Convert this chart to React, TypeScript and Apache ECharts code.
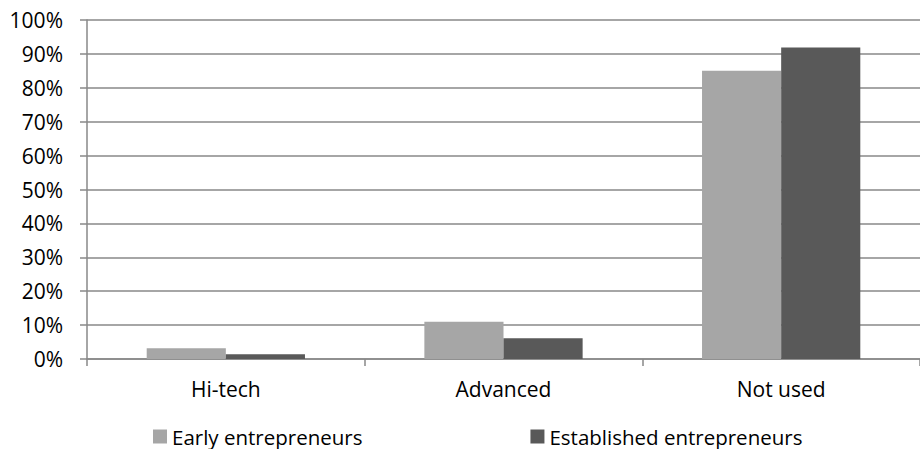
import React, { useEffect, useRef } from "react";
import * as echarts from "echarts";

const categories = ["Hi-tech", "Advanced", "Not used"];
const earlyValues = [3.2, 11.0, 85.0];
const establishedValues = [1.4, 6.1, 91.9];
const seriesNames = ["Early entrepreneurs", "Established entrepreneurs"];

const FONT = "'Open Sans', 'Noto Sans', sans-serif";

export default function App() {
  const ref = useRef<HTMLDivElement>(null);
  useEffect(() => {
    if (!ref.current) return;
    const chart = echarts.init(ref.current, undefined, { renderer: "svg" });
    chart.setOption({
      animation: false,
      backgroundColor: "#ffffff",
      grid: { left: 87, width: 842, top: 20, height: 339, containLabel: false },
      legend: {
        left: 153,
        top: 426,
        padding: 0,
        icon: "rect",
        itemWidth: 14,
        itemHeight: 14,
        itemGap: 168,
        textStyle: { fontFamily: FONT, fontSize: 20.5, color: "#000", lineHeight: 20 },
        data: seriesNames,
      },
      xAxis: {
        type: "category",
        data: categories,
        axisLine: { show: true, lineStyle: { color: "#888", width: 1.5 } },
        axisTick: { show: true, length: 7, lineStyle: { color: "#888", width: 1.5 } },
        axisLabel: { fontFamily: FONT, fontSize: 21, color: "#000", margin: 19 },
      },
      yAxis: {
        type: "value",
        min: 0,
        max: 100,
        interval: 10,
        axisLine: { show: true, lineStyle: { color: "#888", width: 1.5 } },
        axisTick: { show: true, length: 7, lineStyle: { color: "#888", width: 1.5 } },
        splitLine: { show: true, lineStyle: { color: "#888", width: 1.5 } },
        axisLabel: {
          fontFamily: FONT,
          fontSize: 21,
          color: "#000",
          margin: 24,
          formatter: "{value}%",
        },
      },
      series: [
        {
          name: seriesNames[0],
          type: "bar",
          data: earlyValues,
          barGap: "0%",
          barCategoryGap: "43%",
          itemStyle: { color: "#a6a6a6" },
        },
        {
          name: seriesNames[1],
          type: "bar",
          data: establishedValues,
          barGap: "0%",
          barCategoryGap: "43%",
          itemStyle: { color: "#595959" },
        },
      ],
    });
    return () => chart.dispose();
  }, []);
  return (
    <div
      ref={ref}
      style={{ position: "fixed", left: 0, top: 0, width: 920, height: 449 }}
    />
  );
}
